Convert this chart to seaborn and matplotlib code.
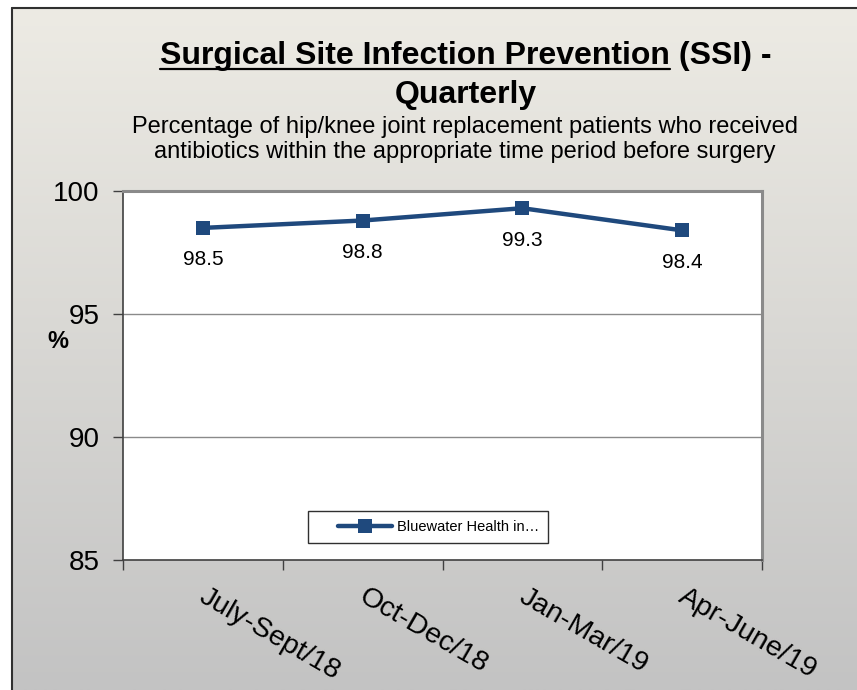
import numpy as np
import pandas as pd
import matplotlib
matplotlib.use("Agg")
import matplotlib.pyplot as plt
from matplotlib.lines import Line2D
from matplotlib.legend_handler import HandlerLine2D
import seaborn as sns

# ---- data ----
quarters = ["July-Sept/18", "Oct-Dec/18", "Jan-Mar/19", "Apr-June/19"]
values = [98.5, 98.8, 99.3, 98.4]
series_name = "Bluewater Health in\u2026"
y_ticks = [85, 90, 95, 100]

title_part1 = "Surgical Site Infection Prevention"
title_part2 = " (SSI) -"
title_line2 = "Quarterly"
subtitle_lines = ["Percentage of hip/knee joint replacement patients who received",
                  "antibiotics within the appropriate time period before surgery"]

df = pd.DataFrame({"quarter": quarters, "value": values, "series": series_name})

sns.set_theme(style="white")
plt.rcParams["font.family"] = ["Liberation Sans", "DejaVu Sans"]
for k in ["text.color", "axes.labelcolor", "xtick.color", "ytick.color"]:
    plt.rcParams[k] = "black"

W, H = 857, 690
fig = plt.figure(figsize=(W / 100, H / 100), dpi=100)
fig.patch.set_facecolor("white")

def fx(px):
    return px / W

def fy(py):
    return 1 - py / H

# ---- gradient background ----
bg = fig.add_axes([fx(11), 0, 1 - fx(11), fy(8)], zorder=-10)
top = np.array([237, 235, 228]) / 255
bot = np.array([195, 195, 195]) / 255
t = np.linspace(0, 1, 256)[:, None]
grad = top[None, :] * (1 - t) + bot[None, :] * t
bg.imshow(grad[:, None, :], aspect="auto", extent=[0, 1, 0, 1], origin="upper")
bg.set_axis_off()

# figure border (left and top)
fig.add_artist(Line2D([fx(11.5), fx(11.5)], [0, fy(8)], color="#303030", lw=1.5, transform=fig.transFigure))
fig.add_artist(Line2D([fx(11.5), 1], [fy(8), fy(8)], color="#303030", lw=1.5, transform=fig.transFigure))

# ---- plot axes ----
ax = fig.add_axes([fx(123), fy(560), fx(762) - fx(123), fy(191) - fy(560)])
ax.set_facecolor("white")

sns.lineplot(data=df, x="quarter", y="value", hue="series", palette=["#1F497D"],
             marker="s", markersize=10, linewidth=3.2, markeredgewidth=0, ax=ax,
             zorder=5)

ax.set_xlim(-0.5, 3.5)
ax.set_ylim(85, 100)
ax.set_yticks(y_ticks)
ax.set_yticklabels([str(v) for v in y_ticks], fontsize=20)
for v in y_ticks[1:-1]:
    ax.axhline(v, color="#8a8a8a", lw=1, zorder=1)

ax.set_xticks(np.arange(-0.5, 4.0, 1.0))
ax.set_xticklabels([])
ax.set_xticks(np.arange(len(quarters)) + 0.03, minor=True)
ax.set_xticklabels(quarters, minor=True, fontsize=20.5, rotation=-30,
                   ha="left", va="top", rotation_mode="anchor")
ax.tick_params(axis="x", which="major", direction="out", length=7, width=1, color="#404040", bottom=True)
ax.tick_params(axis="x", which="minor", length=0, pad=17, bottom=True)
ax.tick_params(axis="y", direction="out", length=7, width=1, color="#404040", pad=10, left=True)

ax.set_xlabel("")
ax.set_ylabel("%", rotation=0, fontsize=17, fontweight="bold", ha="center", va="center")
ax.yaxis.set_label_coords((58 - 123) / 639, (560 - 341) / 369)

for s in ["left", "bottom"]:
    ax.spines[s].set_color("#404040")
    ax.spines[s].set_linewidth(1.2)
for s in ["top", "right"]:
    ax.spines[s].set_color("#8a8a8a")
    ax.spines[s].set_linewidth(2.2)

for i, v in enumerate(values):
    ax.annotate(f"{v}", (i, v), xytext=(0, -23), textcoords="offset points",
                ha="center", va="center", fontsize=15, color="black")


class ShiftedLineHandler(HandlerLine2D):
    """Draw the legend line in the right part of a wider handle box."""
    def create_artists(self, legend, orig_handle, xdescent, ydescent, width,
                       height, fontsize, trans):
        shift = width * 0.28
        return super().create_artists(legend, orig_handle, xdescent - shift, ydescent,
                                      width - shift, height, fontsize, trans)


leg = ax.legend(loc="center", bbox_to_anchor=((428 - 123) / 639, (560 - 527) / 369),
                fontsize=10.5, frameon=True, fancybox=False, edgecolor="#303030",
                facecolor="white", framealpha=1, handlelength=5.2, handletextpad=0.35,
                borderpad=0.6, borderaxespad=0,
                handler_map={Line2D: ShiftedLineHandler()})
leg.get_frame().set_linewidth(1)

# ---- titles ----
r = fig.canvas.get_renderer()
tsize = 23
t1 = fig.text(0, fy(64), title_part1, fontsize=tsize, fontweight="bold", va="baseline", ha="left")
t2 = fig.text(0, fy(64), title_part2, fontsize=tsize, fontweight="bold", va="baseline", ha="left")
w1 = t1.get_window_extent(r).width
w2 = t2.get_window_extent(r).width
cx = 466
x0 = cx - (w1 + w2) / 2
t1.set_x(fx(x0))
t2.set_x(fx(x0 + w1))
fig.add_artist(Line2D([fx(x0), fx(x0 + w1)], [fy(69), fy(69)], color="black", lw=1.6,
                      transform=fig.transFigure))
fig.text(fx(466), fy(103), title_line2, fontsize=tsize, fontweight="bold", va="baseline", ha="center")
fig.text(fx(465), fy(133), subtitle_lines[0], fontsize=17, va="baseline", ha="center")
fig.text(fx(465), fy(158), subtitle_lines[1], fontsize=17, va="baseline", ha="center")

fig.savefig("out.png", dpi=100)
